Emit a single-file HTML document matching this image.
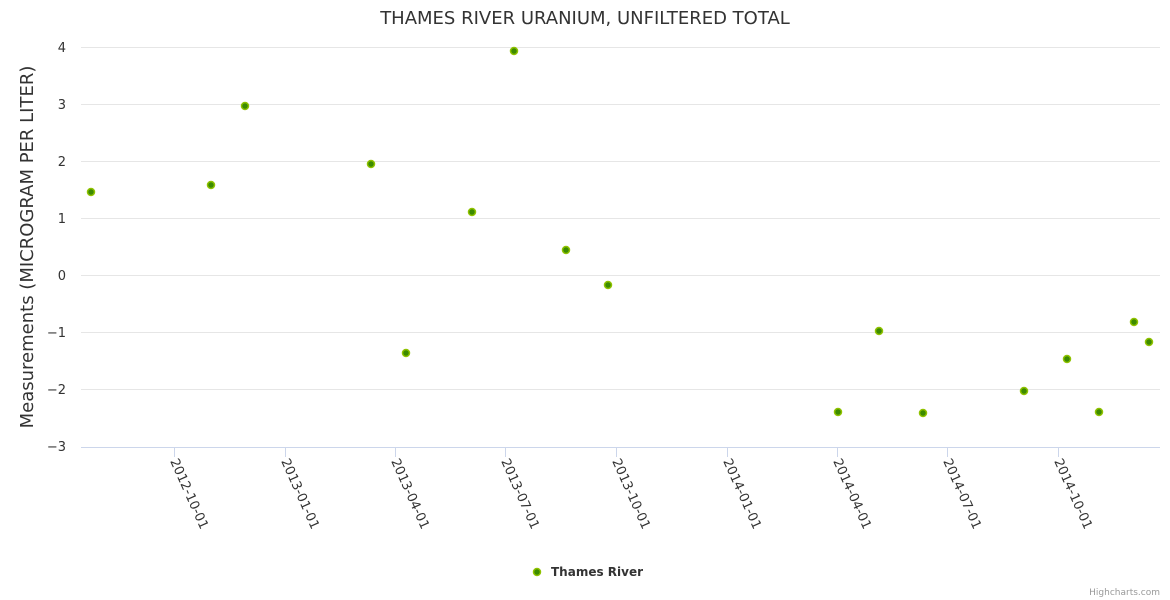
<!DOCTYPE html>
<html><head><meta charset="utf-8"><style>body{margin:0;background:#fff}svg{display:block;font-family:"DejaVu Sans","Liberation Sans",sans-serif}</style></head><body>
<svg width="1170" height="600" xmlns="http://www.w3.org/2000/svg">
<text x="585" y="24" text-anchor="middle" font-size="18" fill="#333">THAMES RIVER URANIUM, UNFILTERED TOTAL</text>
<g stroke="#e6e6e6" stroke-width="1">
<line x1="81" x2="1160" y1="47.5" y2="47.5"/><line x1="81" x2="1160" y1="104.5" y2="104.5"/><line x1="81" x2="1160" y1="161.5" y2="161.5"/><line x1="81" x2="1160" y1="218.5" y2="218.5"/><line x1="81" x2="1160" y1="275.5" y2="275.5"/><line x1="81" x2="1160" y1="332.5" y2="332.5"/><line x1="81" x2="1160" y1="389.5" y2="389.5"/>
</g>
<line x1="81" x2="1160" y1="447.5" y2="447.5" stroke="#ccd6eb"/>
<g stroke="#ccd6eb"><line x1="174.5" x2="174.5" y1="447" y2="457"/><line x1="285.5" x2="285.5" y1="447" y2="457"/><line x1="395.5" x2="395.5" y1="447" y2="457"/><line x1="505.5" x2="505.5" y1="447" y2="457"/><line x1="616.5" x2="616.5" y1="447" y2="457"/><line x1="727.5" x2="727.5" y1="447" y2="457"/><line x1="837.5" x2="837.5" y1="447" y2="457"/><line x1="947.5" x2="947.5" y1="447" y2="457"/><line x1="1058.5" x2="1058.5" y1="447" y2="457"/></g>
<g font-size="13" fill="#333" text-anchor="end">
<text x="66" y="52">4</text><text x="66" y="109">3</text><text x="66" y="166">2</text><text x="66" y="223">1</text><text x="66" y="280">0</text><text x="66" y="337">−1</text><text x="66" y="394">−2</text><text x="66" y="451">−3</text>
</g>
<text transform="translate(33,247) rotate(-90)" text-anchor="middle" font-size="18" fill="#333">Measurements (MICROGRAM PER LITER)</text>
<g font-size="13" fill="#333">
<text transform="translate(170,461) rotate(66)">2012-10-01</text>
<text transform="translate(281,461) rotate(66)">2013-01-01</text>
<text transform="translate(391,461) rotate(66)">2013-04-01</text>
<text transform="translate(501,461) rotate(66)">2013-07-01</text>
<text transform="translate(612,461) rotate(66)">2013-10-01</text>
<text transform="translate(723,461) rotate(66)">2014-01-01</text>
<text transform="translate(833,461) rotate(66)">2014-04-01</text>
<text transform="translate(943,461) rotate(66)">2014-07-01</text>
<text transform="translate(1054,461) rotate(66)">2014-10-01</text>
</g>
<g fill="#3c8b00" stroke="#8fc200" stroke-width="1.5">
<circle cx="91" cy="192" r="3.5"/><circle cx="211" cy="185" r="3.5"/><circle cx="245" cy="106" r="3.5"/><circle cx="371" cy="164" r="3.5"/><circle cx="406" cy="353" r="3.5"/><circle cx="472" cy="212" r="3.5"/><circle cx="514" cy="51" r="3.5"/><circle cx="566" cy="250" r="3.5"/><circle cx="608" cy="285" r="3.5"/><circle cx="838" cy="412" r="3.5"/><circle cx="879" cy="331" r="3.5"/><circle cx="923" cy="413" r="3.5"/><circle cx="1024" cy="391" r="3.5"/><circle cx="1067" cy="359" r="3.5"/><circle cx="1099" cy="412" r="3.5"/><circle cx="1134" cy="322" r="3.5"/><circle cx="1149" cy="342" r="3.5"/>
<circle cx="537" cy="572" r="3.5"/>
</g>
<text x="551" y="576" font-size="12" font-weight="bold" fill="#333">Thames River</text>
<text x="1160" y="595" text-anchor="end" font-size="9" fill="#999">Highcharts.com</text>
</svg>
</body></html>
